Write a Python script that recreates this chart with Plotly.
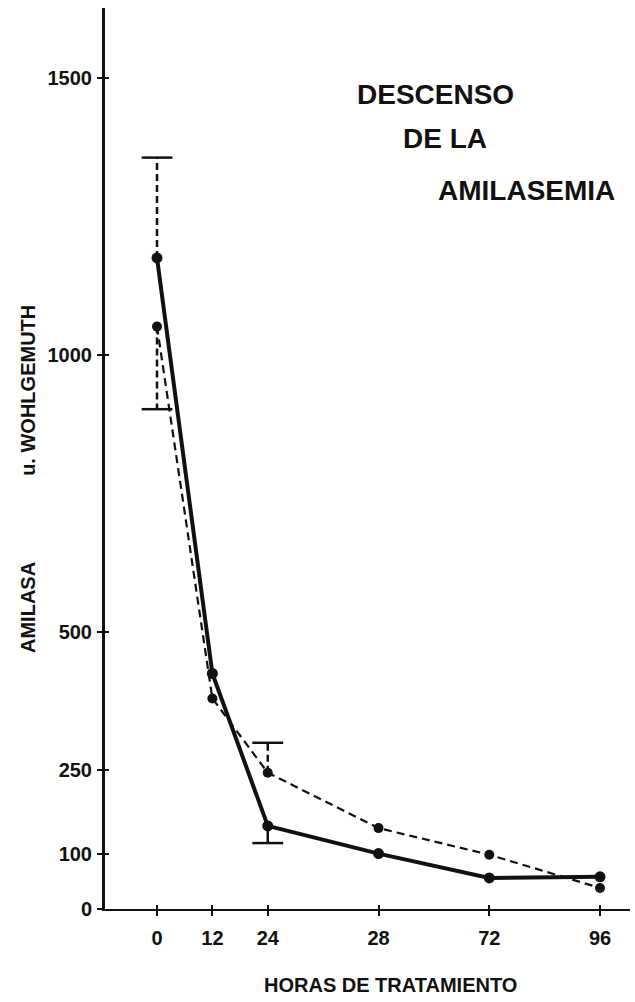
import plotly.graph_objects as go

# ---- data ----
hours = [0, 12, 24, 48, 72, 96]
tick_text = ["0", "12", "24", "28", "72", "96"]
y_ticks = [0, 100, 250, 500, 1000, 1500]

solid_vals = [1175, 425, 150, 100, 56, 58]
dashed_vals = [1051, 380, 246, 146, 98, 38]

# error bars: (hour, end value) for each series
solid_err_x = [0, 24]
solid_err_end = [1356, 119]
solid_err_dash = ["7px,4px", "solid"]
dashed_err_x = [0, 24]
dashed_err_end = [902, 300]
dashed_err_dash = ["7px,4px", "7px,4px"]

INK = "#111111"
FONT = "Liberation Sans"

fig = go.Figure()

# error bars
def add_err(xs, ends, dashes, series_x, series_y):
    for x, e, d in zip(xs, ends, dashes):
        mean = series_y[series_x.index(x)]
        fig.add_trace(go.Scatter(
            x=[x, x], y=[mean, e], mode="lines",
            line=dict(color=INK, width=2.5, dash=d),
            showlegend=False, hoverinfo="skip"))
        fig.add_trace(go.Scatter(
            x=[x], y=[e], mode="markers",
            marker=dict(symbol="line-ew", size=22, line=dict(color=INK, width=2.5)),
            showlegend=False, hoverinfo="skip"))

add_err(solid_err_x, solid_err_end, solid_err_dash, hours, solid_vals)
add_err(dashed_err_x, dashed_err_end, dashed_err_dash, hours, dashed_vals)

# dashed series
fig.add_trace(go.Scatter(
    x=hours, y=dashed_vals, mode="lines+markers",
    line=dict(color=INK, width=2.2, dash="8px,5px"),
    marker=dict(size=10, color=INK),
    showlegend=False))

# solid series
fig.add_trace(go.Scatter(
    x=hours, y=solid_vals, mode="lines+markers",
    line=dict(color=INK, width=4),
    marker=dict(size=11, color=INK),
    showlegend=False))

# invisible trace to anchor secondary axes (for crossing ticks)
fig.add_trace(go.Scatter(x=[None], y=[None], xaxis="x2", yaxis="y2",
                         showlegend=False, hoverinfo="skip"))

x_range = [-11.27, 102.5]
y_range = [0, 1626]

tick_font = dict(family=FONT, size=20, color=INK, weight="bold")

fig.update_layout(
    width=635, height=1002,
    margin=dict(l=105, r=5, t=8, b=93),
    paper_bgcolor="white", plot_bgcolor="white",
    font=dict(family=FONT, color=INK),
    xaxis=dict(
        range=x_range, tickvals=hours, ticktext=tick_text,
        showgrid=False, zeroline=False,
        showline=True, linecolor=INK, linewidth=2,
        ticks="outside", ticklen=5, tickwidth=2, tickcolor=INK,
        tickfont=tick_font,
        ticklabelstandoff=5,
    ),
    yaxis=dict(
        range=y_range, tickvals=y_ticks,
        showgrid=False, zeroline=False,
        showline=True, linecolor=INK, linewidth=3,
        ticks="outside", ticklen=5, tickwidth=2, tickcolor=INK,
        tickfont=tick_font,
        ticklabelstandoff=1,
    ),
    xaxis2=dict(
        range=x_range, tickvals=hours, overlaying="x", anchor="y2",
        showticklabels=False, showgrid=False, zeroline=False, showline=False,
        ticks="inside", ticklen=4, tickwidth=2, tickcolor=INK,
    ),
    yaxis2=dict(
        range=y_range, tickvals=y_ticks, overlaying="y", anchor="x2",
        showticklabels=False, showgrid=False, zeroline=False, showline=False,
        ticks="inside", ticklen=4, tickwidth=2, tickcolor=INK,
    ),
)

ann_font_title = dict(family=FONT, size=28, color=INK, weight="bold")
for txt, x, y in [("DESCENSO", 0.477, 0.9045),
                  ("DE LA", 0.563, 0.8557),
                  ("AMILASEMIA", 0.630, 0.7969)]:
    fig.add_annotation(text=txt, x=x, y=y, xref="paper", yref="paper",
                       xanchor="left", yanchor="middle", showarrow=False,
                       font=ann_font_title)

lab_font = dict(family=FONT, size=20, color=INK, weight="bold")
fig.add_annotation(text="AMILASA", x=-0.147, y=0.335, xref="paper", yref="paper",
                   textangle=-90, showarrow=False, font=lab_font,
                   xanchor="center", yanchor="middle")
fig.add_annotation(text="u. WOHLGEMUTH", x=-0.147, y=0.576, xref="paper", yref="paper",
                   textangle=-90, showarrow=False, font=lab_font,
                   xanchor="center", yanchor="middle")
fig.add_annotation(text="HORAS DE TRATAMIENTO", x=(390 - 105) / 525, y=-(985 - 909) / 901,
                   xref="paper", yref="paper", showarrow=False,
                   font=dict(family=FONT, size=20, color=INK, weight="bold"),
                   xanchor="center", yanchor="middle")

fig.write_html("out.html")
